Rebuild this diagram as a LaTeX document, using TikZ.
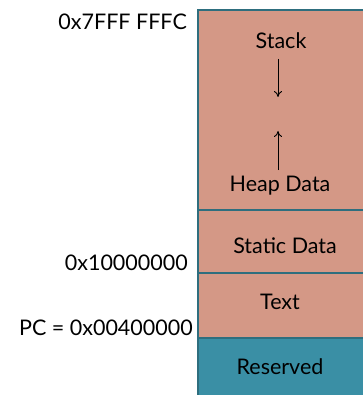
\documentclass[tikz,border=0pt]{standalone}
\usepackage{fontspec}
\setmainfont{Lato}
\usetikzlibrary{arrows.meta}
\definecolor{segfill}{RGB}{212,152,134}
\definecolor{segedge}{RGB}{46,110,126}
\definecolor{resfill}{RGB}{58,143,165}
\begin{document}
\begin{tikzpicture}[x=1pt,y=-1pt,
  seg/.style={draw=segedge,line width=2.4pt,fill=segfill},
  lbl/.style={font=\fontsize{21.5}{24}\selectfont,inner sep=0pt},
  addr/.style={lbl,anchor=east},
  growarrow/.style={-{To[length=6pt,width=8pt]},line width=0.9pt}]
\useasboundingbox (0,0) rectangle (362,395);
% memory segments, top to bottom
\path[seg] (198,10) rectangle (370,210);
\path[seg] (198,210) rectangle (370,273);
\path[seg] (198,273) rectangle (370,338);
\path[seg,fill=resfill] (198,338) rectangle (370,400);
% segment names
\node[lbl] (stack) at (281,41) {Stack};
\node[lbl] (heap) at (280,186) {Heap Data};
\node[lbl] (static) at (285,246) {Static Data};
\node[lbl] (text) at (280,302) {Text};
\node[lbl] (res) at (280,367) {Reserved};
% growth directions
\coordinate (sdown) at (278,97);
\coordinate (sfrom) at (278,59);
\coordinate (hup) at (278,131);
\coordinate (hfrom) at (278,170);
\draw[growarrow] (sfrom) -- (sdown);
\draw[growarrow] (hfrom) -- (hup);
% addresses
\node[addr] (a1) at (187,22) {0x7FFF FFFC};
\node[addr] (a2) at (188,263) {0x10000000};
\node[addr] (a3) at (193,328) {PC = 0x00400000};
\end{tikzpicture}
\end{document}
